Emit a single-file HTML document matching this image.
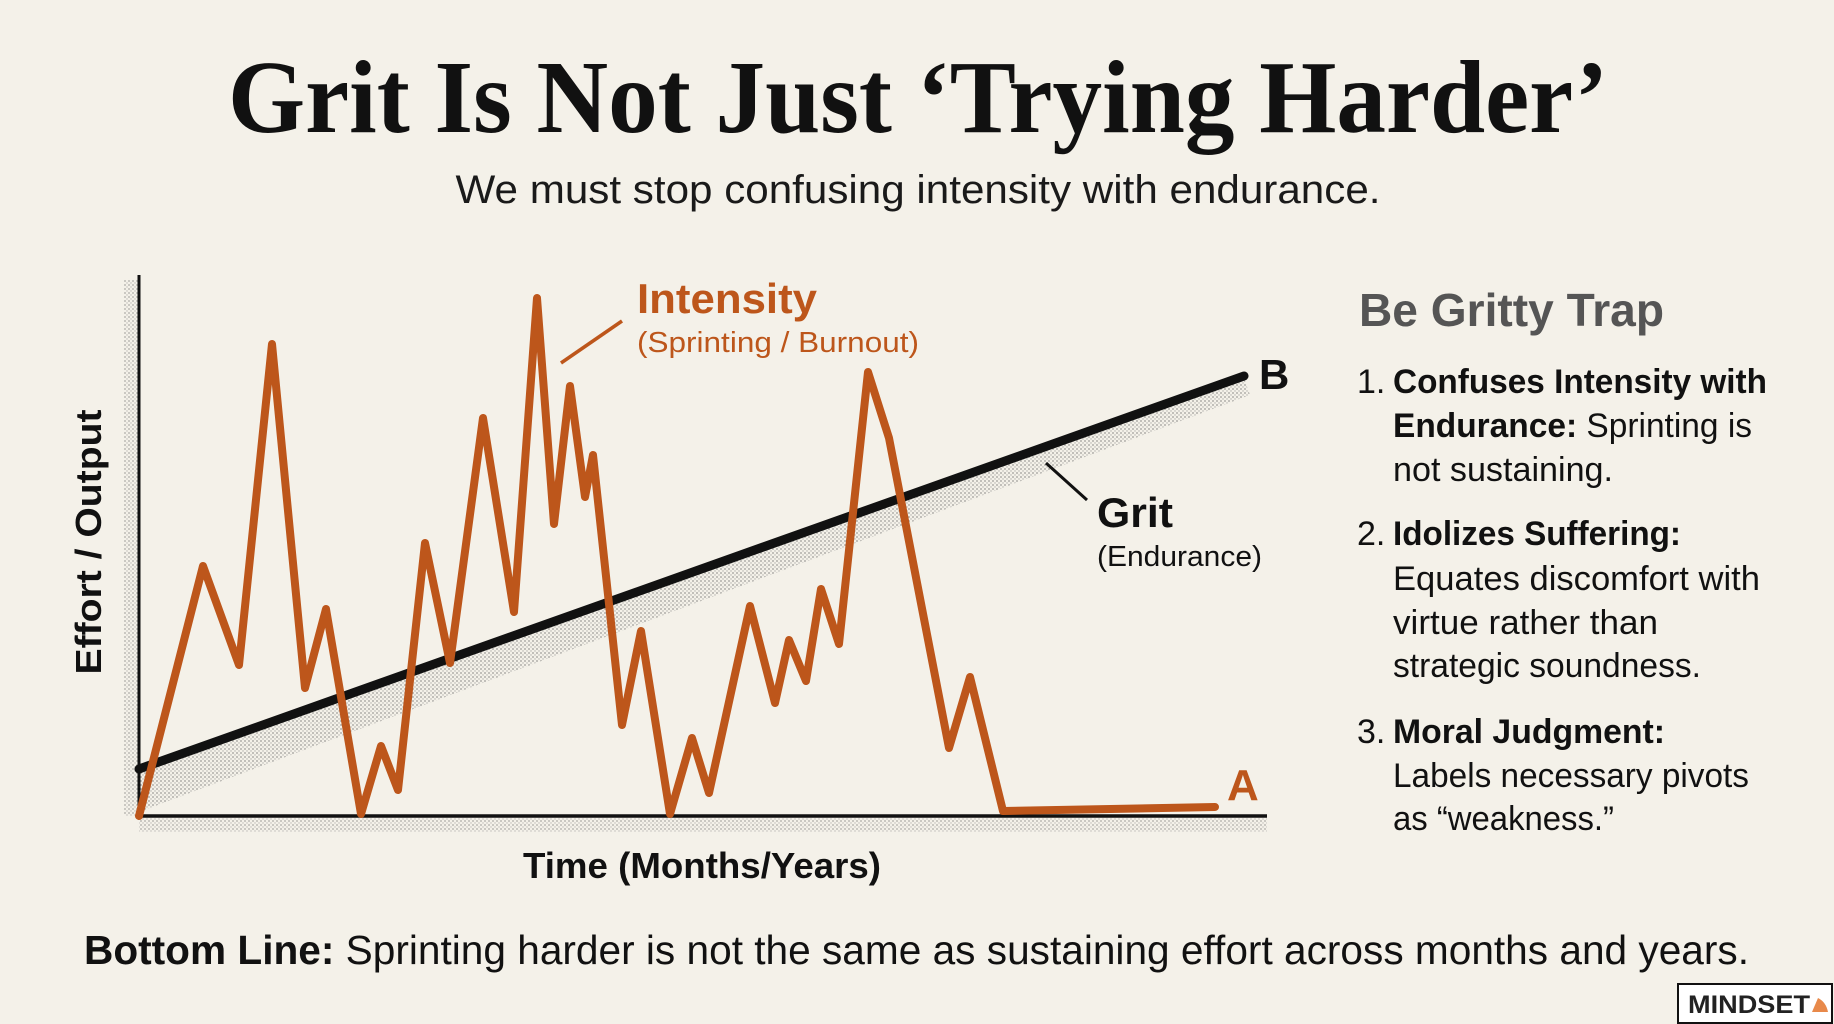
<!DOCTYPE html>
<html><head><meta charset="utf-8"><style>
html,body{margin:0;padding:0;background:#f4f1e9;}
svg{display:block;}
</style></head><body>
<svg width="1834" height="1024" viewBox="0 0 1834 1024" xmlns="http://www.w3.org/2000/svg">
<defs>
<pattern id="dots" width="4" height="4" patternUnits="userSpaceOnUse">
<circle cx="1" cy="1" r="0.9" fill="#555"/><circle cx="3" cy="3" r="0.7" fill="#777"/>
</pattern>
</defs>
<rect width="1834" height="1024" fill="#f4f1e9"/>
<text x="918" y="132" text-anchor="middle" font-family="Liberation Serif, serif" font-weight="bold" font-size="104" fill="#111" textLength="1380" lengthAdjust="spacingAndGlyphs">Grit Is Not Just ‘Trying Harder’</text>
<text x="918" y="203" text-anchor="middle" font-family="Liberation Sans, sans-serif" font-size="40" fill="#1a1a1a" textLength="925" lengthAdjust="spacingAndGlyphs">We must stop confusing intensity with endurance.</text>

<polygon points="139,772 1244,378 1250,395 139,812" fill="url(#dots)" opacity="0.55"/>
<rect x="124" y="280" width="14" height="536" fill="url(#dots)" opacity="0.45"/>
<rect x="139" y="818" width="1128" height="14" fill="url(#dots)" opacity="0.45"/>
<line x1="139" y1="275" x2="139" y2="818" stroke="#111" stroke-width="3"/>
<line x1="137" y1="816" x2="1267" y2="816" stroke="#111" stroke-width="3.5"/>
<line x1="139" y1="769" x2="1244" y2="376" stroke="#111" stroke-width="9" stroke-linecap="round"/>
<polyline fill="none" stroke="#bd561b" stroke-width="8" stroke-linejoin="round" stroke-linecap="round" points="139,816 203,566 239,665 272,344 305,688 326,609 361,814 381,746 398,790 425,543 450,663 483,418 514,612 537,298 554,524 570,386 585,497 593,455 622,725 641,631 670,814 692,738 709,793 750,606 775,703 789,640 806,681 821,589 839,644 868,372 889,438 949,748 970,677 1003,811 1215,807"/>
<line x1="622" y1="321" x2="561" y2="363" stroke="#bd561b" stroke-width="3.5"/>
<text x="637" y="313" font-family="Liberation Sans, sans-serif" font-weight="bold" font-size="42" fill="#bd561b" textLength="180" lengthAdjust="spacingAndGlyphs">Intensity</text>
<text x="637" y="352" font-family="Liberation Sans, sans-serif" font-size="29" fill="#bd561b" textLength="282" lengthAdjust="spacingAndGlyphs">(Sprinting / Burnout)</text>
<text x="1259" y="389" font-family="Liberation Sans, sans-serif" font-weight="bold" font-size="42" fill="#111">B</text>
<line x1="1046" y1="463" x2="1087" y2="500" stroke="#111" stroke-width="3"/>
<text x="1097" y="527" font-family="Liberation Sans, sans-serif" font-weight="bold" font-size="42" fill="#111" textLength="76" lengthAdjust="spacingAndGlyphs">Grit</text>
<text x="1097" y="566" font-family="Liberation Sans, sans-serif" font-size="29" fill="#111" textLength="165" lengthAdjust="spacingAndGlyphs">(Endurance)</text>
<text x="1227" y="800" font-family="Liberation Sans, sans-serif" font-weight="bold" font-size="44" fill="#bd561b">A</text>
<text transform="translate(101,542) rotate(-90)" text-anchor="middle" font-family="Liberation Sans, sans-serif" font-weight="bold" font-size="36" fill="#111" textLength="265" lengthAdjust="spacingAndGlyphs">Effort / Output</text>
<text x="702" y="878" text-anchor="middle" font-family="Liberation Sans, sans-serif" font-weight="bold" font-size="36" fill="#111" textLength="358" lengthAdjust="spacingAndGlyphs">Time (Months/Years)</text>

<text x="1359" y="326" font-family="Liberation Sans, sans-serif" font-weight="bold" font-size="46" fill="#555" textLength="305" lengthAdjust="spacingAndGlyphs">Be Gritty Trap</text>
<g font-family="Liberation Sans, sans-serif" font-size="34" fill="#111">
<text x="1357" y="393">1.</text>
<text x="1393" y="393" font-weight="bold" textLength="374" lengthAdjust="spacingAndGlyphs">Confuses Intensity with</text>
<text x="1393" y="437" textLength="359" lengthAdjust="spacingAndGlyphs"><tspan font-weight="bold">Endurance:</tspan> Sprinting is</text>
<text x="1393" y="481" textLength="220" lengthAdjust="spacingAndGlyphs">not sustaining.</text>
<text x="1357" y="545">2.</text>
<text x="1393" y="545" font-weight="bold" textLength="288" lengthAdjust="spacingAndGlyphs">Idolizes Suffering:</text>
<text x="1393" y="590" textLength="367" lengthAdjust="spacingAndGlyphs">Equates discomfort with</text>
<text x="1393" y="634" textLength="265" lengthAdjust="spacingAndGlyphs">virtue rather than</text>
<text x="1393" y="677" textLength="308" lengthAdjust="spacingAndGlyphs">strategic soundness.</text>
<text x="1357" y="743">3.</text>
<text x="1393" y="743" font-weight="bold" textLength="272" lengthAdjust="spacingAndGlyphs">Moral Judgment:</text>
<text x="1393" y="787" textLength="356" lengthAdjust="spacingAndGlyphs">Labels necessary pivots</text>
<text x="1393" y="830" textLength="221" lengthAdjust="spacingAndGlyphs">as “weakness.”</text>
</g>
<text x="84" y="964" font-family="Liberation Sans, sans-serif" font-size="41" fill="#111" textLength="1665" lengthAdjust="spacingAndGlyphs"><tspan font-weight="bold">Bottom Line:</tspan> Sprinting harder is not the same as sustaining effort across months and years.</text>
<rect x="1678" y="984" width="154" height="39" fill="#fff" stroke="#111" stroke-width="2"/>
<text x="1688" y="1013" font-family="Liberation Sans, sans-serif" font-weight="bold" font-size="25" fill="#222" textLength="122" lengthAdjust="spacingAndGlyphs">MINDSET</text>
<path d="M1812,1012 L1818,998 Q1826,1002 1828,1012 Z" fill="#e8894a"/>
</svg>
</body></html>
